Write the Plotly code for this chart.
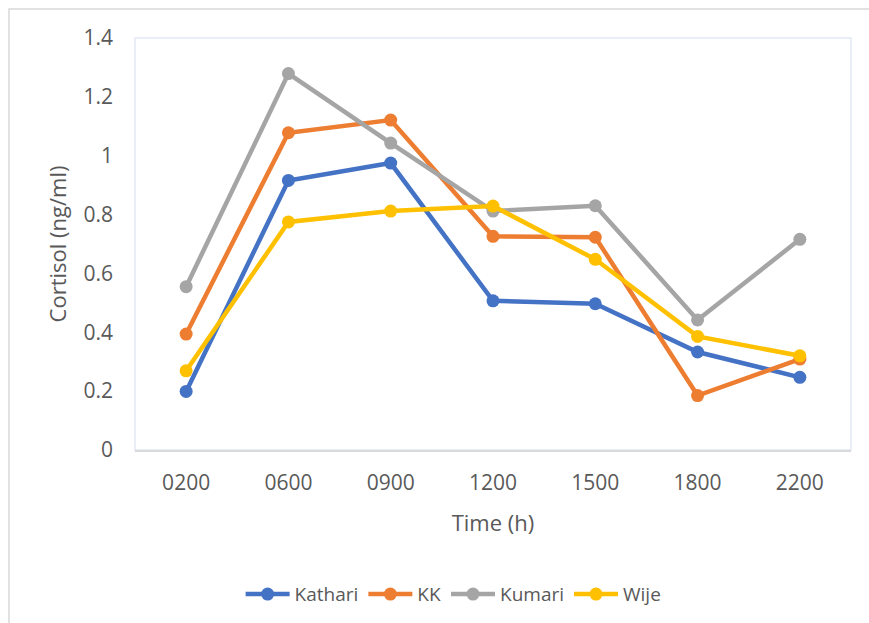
import plotly.graph_objects as go

# Sampling times and cortisol levels (ng/ml) per subject
times = ["0200", "0600", "0900", "1200", "1500", "1800", "2200"]
kathari = [0.199, 0.916, 0.975, 0.507, 0.497, 0.333, 0.247]
kk = [0.394, 1.078, 1.121, 0.726, 0.723, 0.185, 0.309]
kumari = [0.555, 1.279, 1.043, 0.812, 0.830, 0.442, 0.716]
wije = [0.269, 0.775, 0.812, 0.829, 0.648, 0.386, 0.320]

y_ticks = [0, 0.2, 0.4, 0.6, 0.8, 1.0, 1.2, 1.4]
y_tick_text = ["0", "0.2", "0.4", "0.6", "0.8", "1", "1.2", "1.4"]

series = [
    ("Kathari", kathari, "#4472C4"),
    ("KK", kk, "#ED7D31"),
    ("Kumari", kumari, "#A5A5A5"),
    ("Wije", wije, "#FFC000"),
]

FONT = "Open Sans"
TEXT = "#595959"

fig = go.Figure()
for name, vals, color in series:
    fig.add_trace(go.Scatter(
        x=times, y=vals, name=name, mode="lines+markers",
        line=dict(color=color, width=4.5),
        marker=dict(color=color, size=13),
    ))

fig.update_layout(
    width=869, height=623,
    margin=dict(l=135, r=18, t=38, b=173, autoexpand=False),
    paper_bgcolor="white", plot_bgcolor="white",
    font=dict(family=FONT, color=TEXT, size=20),
    showlegend=True,
    legend=dict(
        orientation="h", x=0.445, xanchor="center", y=-0.35, yanchor="middle",
        font=dict(family=FONT, size=19, color=TEXT),
        itemwidth=44, tracegroupgap=0,
    ),
    xaxis=dict(
        type="category", range=[-0.5, 6.5],
        showgrid=False, zeroline=False,
        showline=True, linecolor="#d9d9d9", linewidth=2,
        ticks="", tickfont=dict(family=FONT, size=21, color=TEXT),
        ticklabelstandoff=13,
        title=dict(text="Time (h)", font=dict(family=FONT, size=22, color=TEXT),
                   standoff=20),
        automargin=False,
    ),
    yaxis=dict(
        range=[0, 1.4], tickvals=y_ticks, ticktext=y_tick_text,
        showgrid=False, zeroline=False, showline=False,
        ticks="", tickfont=dict(family=FONT, size=21, color=TEXT),
        ticklabelstandoff=21,
        title=dict(text="Cortisol (ng/ml)", font=dict(family=FONT, size=22, color=TEXT),
                   standoff=10),
        automargin=False,
    ),
    shapes=[
        # faint frame around the plotting area
        dict(type="rect", xref="paper", yref="paper", x0=0, x1=1, y0=0, y1=1,
             line=dict(color="#e3e9f5", width=1.5), layer="below"),
        # outer chart border
        dict(type="rect", xref="paper", yref="paper",
             x0=-0.176, x1=1.04, y0=-0.45, y1=1.0704,
             line=dict(color="#d9d9d9", width=1.5), layer="below"),
    ],
)

fig.write_html("out.html")
